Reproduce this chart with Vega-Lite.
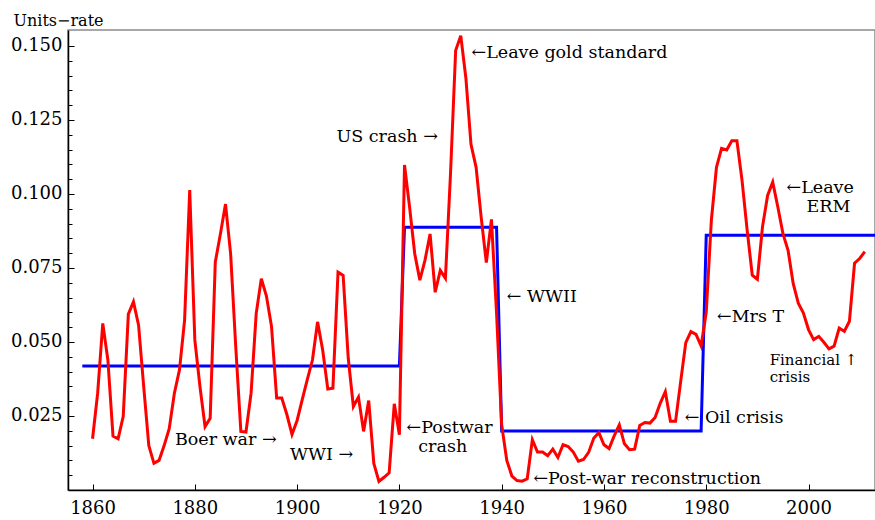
{
  "$schema": "https://vega.github.io/schema/vega-lite/v6.json",
  "width": 807,
  "height": 460,
  "autosize": {"type": "none"},
  "padding": {"left": 68, "top": 30, "right": 0, "bottom": 30},
  "background": "white",
  "config": {
    "view": {"stroke": "#8c8c8c", "strokeWidth": 1.5},
    "font": "DejaVu Serif"
  },
  "datasets": {
    "regime": [
      {"year": 1858, "rate": 0.0419},
      {"year": 1920, "rate": 0.0419},
      {"year": 1921, "rate": 0.0888},
      {"year": 1939, "rate": 0.0888},
      {"year": 1940, "rate": 0.0199},
      {"year": 1979, "rate": 0.0199},
      {"year": 1980, "rate": 0.0861},
      {"year": 2013, "rate": 0.0861}
    ],
    "unemp": [
      {"year": 1860, "rate": 0.0173}, {"year": 1861, "rate": 0.0327}, {"year": 1862, "rate": 0.0563}, {"year": 1863, "rate": 0.0439},
      {"year": 1864, "rate": 0.0182}, {"year": 1865, "rate": 0.0173}, {"year": 1866, "rate": 0.0249}, {"year": 1867, "rate": 0.0594},
      {"year": 1868, "rate": 0.0636}, {"year": 1869, "rate": 0.0557}, {"year": 1870, "rate": 0.0350}, {"year": 1871, "rate": 0.0150},
      {"year": 1872, "rate": 0.0090}, {"year": 1873, "rate": 0.0100}, {"year": 1874, "rate": 0.0150}, {"year": 1875, "rate": 0.0208},
      {"year": 1876, "rate": 0.0327}, {"year": 1877, "rate": 0.0406}, {"year": 1878, "rate": 0.0574}, {"year": 1879, "rate": 0.1013},
      {"year": 1880, "rate": 0.0507}, {"year": 1881, "rate": 0.0350}, {"year": 1882, "rate": 0.0214}, {"year": 1883, "rate": 0.0242},
      {"year": 1884, "rate": 0.0770}, {"year": 1885, "rate": 0.0865}, {"year": 1886, "rate": 0.0966}, {"year": 1887, "rate": 0.0798},
      {"year": 1888, "rate": 0.0484}, {"year": 1889, "rate": 0.0198}, {"year": 1890, "rate": 0.0196}, {"year": 1891, "rate": 0.0327},
      {"year": 1892, "rate": 0.0596}, {"year": 1893, "rate": 0.0714}, {"year": 1894, "rate": 0.0655}, {"year": 1895, "rate": 0.0552},
      {"year": 1896, "rate": 0.0311}, {"year": 1897, "rate": 0.0311}, {"year": 1898, "rate": 0.0255}, {"year": 1899, "rate": 0.0188},
      {"year": 1900, "rate": 0.0235}, {"year": 1901, "rate": 0.0305}, {"year": 1902, "rate": 0.0374}, {"year": 1903, "rate": 0.0439},
      {"year": 1904, "rate": 0.0568}, {"year": 1905, "rate": 0.0473}, {"year": 1906, "rate": 0.0341}, {"year": 1907, "rate": 0.0344},
      {"year": 1908, "rate": 0.0736}, {"year": 1909, "rate": 0.0725}, {"year": 1910, "rate": 0.0445}, {"year": 1911, "rate": 0.0282},
      {"year": 1912, "rate": 0.0314}, {"year": 1913, "rate": 0.0198}, {"year": 1914, "rate": 0.0302}, {"year": 1915, "rate": 0.0090},
      {"year": 1916, "rate": 0.0029}, {"year": 1917, "rate": 0.0043}, {"year": 1918, "rate": 0.0058}, {"year": 1919, "rate": 0.0291},
      {"year": 1920, "rate": 0.0187}, {"year": 1921, "rate": 0.1098}, {"year": 1922, "rate": 0.0955}, {"year": 1923, "rate": 0.0798},
      {"year": 1924, "rate": 0.0709}, {"year": 1925, "rate": 0.0776}, {"year": 1926, "rate": 0.0865}, {"year": 1927, "rate": 0.0668},
      {"year": 1928, "rate": 0.0742}, {"year": 1929, "rate": 0.0715}, {"year": 1930, "rate": 0.1070}, {"year": 1931, "rate": 0.1485},
      {"year": 1932, "rate": 0.1535}, {"year": 1933, "rate": 0.1392}, {"year": 1934, "rate": 0.1168}, {"year": 1935, "rate": 0.1090},
      {"year": 1936, "rate": 0.0920}, {"year": 1937, "rate": 0.0768}, {"year": 1938, "rate": 0.0914}, {"year": 1939, "rate": 0.0597},
      {"year": 1940, "rate": 0.0220}, {"year": 1941, "rate": 0.0100}, {"year": 1942, "rate": 0.0047}, {"year": 1943, "rate": 0.0032},
      {"year": 1944, "rate": 0.0030}, {"year": 1945, "rate": 0.0038}, {"year": 1946, "rate": 0.0170}, {"year": 1947, "rate": 0.0128},
      {"year": 1948, "rate": 0.0128}, {"year": 1949, "rate": 0.0116}, {"year": 1950, "rate": 0.0138}, {"year": 1951, "rate": 0.0110},
      {"year": 1952, "rate": 0.0153}, {"year": 1953, "rate": 0.0147}, {"year": 1954, "rate": 0.0128}, {"year": 1955, "rate": 0.0097},
      {"year": 1956, "rate": 0.0103}, {"year": 1957, "rate": 0.0127}, {"year": 1958, "rate": 0.0175}, {"year": 1959, "rate": 0.0194},
      {"year": 1960, "rate": 0.0153}, {"year": 1961, "rate": 0.0140}, {"year": 1962, "rate": 0.0183}, {"year": 1963, "rate": 0.0220},
      {"year": 1964, "rate": 0.0156}, {"year": 1965, "rate": 0.0136}, {"year": 1966, "rate": 0.0138}, {"year": 1967, "rate": 0.0218},
      {"year": 1968, "rate": 0.0228}, {"year": 1969, "rate": 0.0226}, {"year": 1970, "rate": 0.0245}, {"year": 1971, "rate": 0.0293},
      {"year": 1972, "rate": 0.0332}, {"year": 1973, "rate": 0.0232}, {"year": 1974, "rate": 0.0232}, {"year": 1975, "rate": 0.0366},
      {"year": 1976, "rate": 0.0498}, {"year": 1977, "rate": 0.0535}, {"year": 1978, "rate": 0.0526}, {"year": 1979, "rate": 0.0487},
      {"year": 1980, "rate": 0.0600}, {"year": 1981, "rate": 0.0911}, {"year": 1982, "rate": 0.1090}, {"year": 1983, "rate": 0.1154},
      {"year": 1984, "rate": 0.1149}, {"year": 1985, "rate": 0.1180}, {"year": 1986, "rate": 0.1180}, {"year": 1987, "rate": 0.1046},
      {"year": 1988, "rate": 0.0878}, {"year": 1989, "rate": 0.0726}, {"year": 1990, "rate": 0.0712}, {"year": 1991, "rate": 0.0889},
      {"year": 1992, "rate": 0.0995}, {"year": 1993, "rate": 0.1040}, {"year": 1994, "rate": 0.0956}, {"year": 1995, "rate": 0.0866},
      {"year": 1996, "rate": 0.0810}, {"year": 1997, "rate": 0.0698}, {"year": 1998, "rate": 0.0631}, {"year": 1999, "rate": 0.0598},
      {"year": 2000, "rate": 0.0542}, {"year": 2001, "rate": 0.0508}, {"year": 2002, "rate": 0.0519}, {"year": 2003, "rate": 0.0499},
      {"year": 2004, "rate": 0.0477}, {"year": 2005, "rate": 0.0486}, {"year": 2006, "rate": 0.0547}, {"year": 2007, "rate": 0.0536},
      {"year": 2008, "rate": 0.0570}, {"year": 2009, "rate": 0.0766}, {"year": 2010, "rate": 0.0782}, {"year": 2011, "rate": 0.0805}
    ],
    "notes": [
      {"year": 1934.1, "rate": 0.1475, "label": "←Leave gold standard", "kind": "main"},
      {"year": 1907.7, "rate": 0.1194, "label": "US crash →", "kind": "main"},
      {"year": 1876.1, "rate": 0.0169, "label": "Boer war →", "kind": "main"},
      {"year": 1898.6, "rate": 0.0118, "label": "WWI  →", "kind": "main"},
      {"year": 1921.4, "rate": 0.0208, "label": "←Postwar", "kind": "main"},
      {"year": 1923.7, "rate": 0.0146, "label": "crash", "kind": "main"},
      {"year": 1941.0, "rate": 0.0653, "label": "← WWII", "kind": "main"},
      {"year": 1946.2, "rate": 0.0036, "label": "←Post-war reconstruction", "kind": "main"},
      {"year": 1975.8, "rate": 0.0244, "label": "← Oil crisis", "kind": "main"},
      {"year": 1982.1, "rate": 0.0586, "label": "←Mrs T", "kind": "main"},
      {"year": 1995.7, "rate": 0.1019, "label": "←Leave", "kind": "main"},
      {"year": 1999.6, "rate": 0.0957, "label": "ERM", "kind": "main"},
      {"year": 1992.4, "rate": 0.0439, "label": "Financial ↑", "kind": "small"},
      {"year": 1992.4, "rate": 0.0383, "label": "crisis", "kind": "small"}
    ]
  },
  "encoding": {
    "x": {
      "field": "year",
      "type": "quantitative",
      "scale": {"domain": [1855.2, 2013], "nice": false, "zero": false},
      "axis": {
        "values": [1860, 1880, 1900, 1920, 1940, 1960, 1980, 2000],
        "format": "d",
        "title": null,
        "grid": false,
        "domainColor": "#000000",
        "domainWidth": 1.5,
        "tickColor": "#000000",
        "tickWidth": 1,
        "tickSize": -6,
        "labelPadding": 15,
        "labelFont": "DejaVu Serif",
        "labelFontSize": 18,
        "labelColor": "#000000"
      }
    },
    "y": {
      "field": "rate",
      "type": "quantitative",
      "scale": {"domain": [0, 0.1554], "nice": false, "zero": false},
      "axis": {
        "values": [0.005, 0.01, 0.015, 0.02, 0.025, 0.03, 0.035, 0.04, 0.045, 0.05, 0.055, 0.06, 0.065, 0.07, 0.075, 0.08, 0.085, 0.09, 0.095, 0.1, 0.105, 0.11, 0.115, 0.12, 0.125, 0.13, 0.135, 0.14, 0.145, 0.15],
        "labelExpr": "round(datum.value*1000) % 25 === 0 ? format(datum.value, '.3f') : ''",
        "grid": false,
        "domainColor": "#000000",
        "domainWidth": 1.5,
        "tickColor": "#000000",
        "tickWidth": 1,
        "tickSize": {"condition": {"test": "round(datum.value*1000) % 25 === 0", "value": -6}, "value": -4},
        "labelPadding": 12,
        "labelFont": "DejaVu Serif",
        "labelFontSize": 18,
        "labelColor": "#000000",
        "title": "Units−rate",
        "titleAngle": 0,
        "titleAlign": "left",
        "titleBaseline": "middle",
        "titleX": -55,
        "titleY": -10,
        "titleFont": "DejaVu Serif",
        "titleFontSize": 16,
        "titleFontWeight": "normal",
        "titleColor": "#000000"
      }
    }
  },
  "layer": [
    {
      "data": {"name": "regime"},
      "mark": {"type": "line", "color": "#0000ff", "strokeWidth": 3, "clip": true}
    },
    {
      "data": {"name": "unemp"},
      "mark": {"type": "line", "color": "#ff0000", "strokeWidth": 3, "clip": true}
    },
    {
      "data": {"name": "notes"},
      "transform": [{"filter": "datum.kind === 'main'"}],
      "mark": {"type": "text", "align": "left", "baseline": "middle", "font": "DejaVu Serif", "fontSize": 17.5, "color": "#000000"},
      "encoding": {"text": {"field": "label"}}
    },
    {
      "data": {"name": "notes"},
      "transform": [{"filter": "datum.kind === 'small'"}],
      "mark": {"type": "text", "align": "left", "baseline": "middle", "font": "DejaVu Serif", "fontSize": 15, "color": "#000000"},
      "encoding": {"text": {"field": "label"}}
    }
  ]
}
